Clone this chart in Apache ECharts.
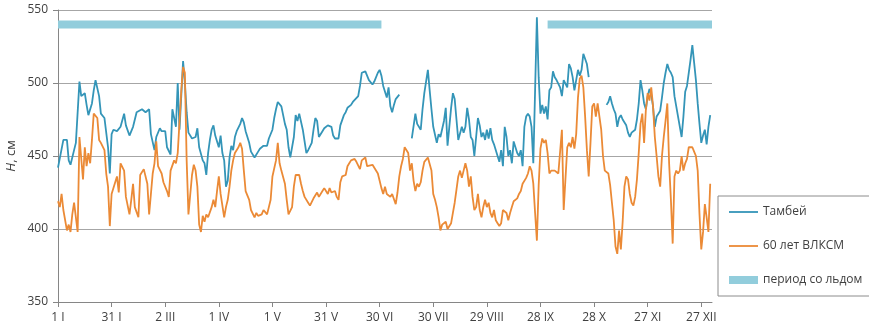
<!DOCTYPE html>
<html style="height: 100%">

<head>
	<meta charset="utf-8">
</head>

<body style="height: 100%; margin: 0; background: #fff">
	<div id="container" style="width: 869px; height: 333px;"></div>
	<script type="text/javascript" src="https://cdn.jsdelivr.net/npm/echarts@6/dist/echarts.min.js"></script>
	<script type="text/javascript">
		// day of year (0 = 1 I) and water level H, cm
		let tambeyDays = [
			0, 3, 5, 6, 7, 9, 10, 12, 13, 15, 16, 17, 19, 20, 21, 23, 24, 26, 28, 29,
			30, 31, 33, 35, 37, 38, 40, 42, 44, 45, 47, 49, 51, 52, 54, 55, 57, 58, 60, 61,
			63, 64, 66, 67, 68, 70, 71, 72, 73, 75, 77, 78, 79, 81, 82, 83, 84, 85, 86, 87,
			88, 90, 91, 92, 93, 94, 95, 96, 97, 98, 99, 100, 102, 103, 104, 105, 107, 108, 110, 112,
			113, 115, 117, 118, 120, 121, 122, 123, 125, 126, 127, 128, 129, 130, 132, 133, 134, 135, 137, 138,
			139, 140, 142, 143, 144, 145, 146, 147, 148, 149, 151, 153, 154, 155, 157, 158, 160, 161, 162, 164,
			165, 166, 168, 169, 170, 172, 173, 174, 176, 177, 179, 180, 181, 182, 184, 185, 186, 187, 188, 189,
			191, 194,
			198, 200, 201, 203, 204, 205, 207, 208, 209, 210, 212, 213, 214, 216, 217, 218, 219, 220, 221, 222,
			223, 224, 225, 226, 227, 228, 229, 230, 231, 232, 233, 234, 235, 236, 237, 238, 239, 240, 241, 242,
			243, 244, 245, 246, 247, 248, 249, 250, 251, 252, 253, 254, 255, 256, 257, 258, 259, 260, 261, 262,
			263, 264, 265, 266, 267, 268, 269, 270, 271, 272, 273, 274, 275, 276, 277, 278, 279, 280, 281, 282,
			283, 284, 285, 286, 287, 288, 289, 290, 291, 292, 293, 294, 295, 296, 297, 302,
			307, 308, 309, 310, 311, 312, 313, 314, 315, 316, 317, 318, 319, 320, 321, 323, 324, 325, 326, 327,
			328, 329, 330, 331, 332, 333, 334, 335, 336, 337, 338, 339, 340, 341, 342, 343, 344, 345, 346, 347,
			348, 349, 350, 351, 352, 353, 354, 355, 356, 357, 358, 359, 360, 361, 362, 363, 364, 365
		];
		let tambeyH = [
			442, 461, 461, 447, 444, 454, 459, 501, 491, 493, 485, 478, 486, 495, 502, 491, 479, 476, 456, 438,
			465, 468, 467, 470, 479, 471, 464, 470, 480, 479, 482, 480, 482, 465, 454, 463, 469, 467, 467, 456,
			451, 482, 470, 500, 468, 515, 500, 480, 466, 462, 463, 469, 456, 447, 445, 437, 452, 461, 468, 471,
			464, 456, 464, 452, 447, 429, 433, 449, 457, 454, 463, 467, 472, 476, 473, 467, 459, 453, 449, 453,
			455, 457, 457, 462, 468, 476, 482, 487, 484, 478, 472, 468, 456, 449, 463, 478, 474, 479, 468, 460,
			452, 454, 459, 468, 476, 474, 463, 462, 467, 469, 471, 470, 464, 462, 462, 471, 478, 480, 483, 485,
			487, 487, 491, 498, 507, 508, 509, 502, 499, 501, 507, 509, 505, 498, 490, 497, 484, 480, 485, 489,
			492, null,
			462, 479, 472, 468, 482, 493, 509, 495, 482, 470, 459, 465, 463, 474, 483, 457, 470, 483, 493, 489,
			475, 461, 460, 470, 466, 470, 483, 475, 463, 461, 450, 463, 476, 471, 463, 466, 461, 468, 462, 469,
			461, 458, 459, 450, 446, 454, 443, 470, 463, 450, 454, 445, 460, 461, 452, 450, 454, 443, 470, 477,
			479, 477, 470, 445, 495, 545, 504, 479, 485, 479, 484, 475, 495, 497, 508, 504, 502, 501, 497, 491,
			502, 503, 497, 513, 510, 504, 495, 502, 509, 505, 509, 520, 520, 513, 504, null,
			485, 487, 491, 486, 482, 479, 470, 476, 478, 475, 476, 471, 466, 463, 466, 468, 475, 486, 502, 495,
			486, 482, 491, 496, 492, 484, 470, 477, 479, 481, 490, 500, 507, 513, 509, 507, 504, 491, 484, 477,
			470, 463, 477, 494, 498, 507, 516, 526, 514, 502, 486, 472, 459, 464, 468, 458, 470, 478
		];
		let vlksmDays = [
			0, 1, 2, 3, 5, 6, 7, 8, 9, 11, 12, 13, 14, 15, 16, 17, 18, 19, 20, 22,
			23, 24, 26, 27, 28, 29, 30, 31, 33, 34, 35, 37, 38, 40, 41, 42, 43, 45, 46, 48,
			49, 50, 51, 53, 54, 55, 56, 58, 59, 61, 62, 63, 65, 66, 67, 69, 70, 71, 72, 73,
			74, 75, 76, 77, 78, 79, 80, 81, 82, 83, 84, 86, 87, 88, 89, 90, 91, 93, 94, 95,
			96, 97, 98, 99, 101, 102, 103, 104, 105, 107, 108, 110, 111, 112, 114, 115, 117, 118, 119, 120,
			121, 122, 123, 124, 125, 127, 128, 129, 131, 132, 133, 135, 136, 137, 138, 140, 141, 143, 145, 146,
			148, 149, 151, 152, 153, 155, 156, 157, 158, 159, 161, 162, 163, 164, 166, 167, 168, 169, 170, 172,
			173, 174, 176, 177, 179, 180, 181, 182, 183, 184, 185, 186, 187, 188, 189, 190, 191, 192, 193, 194,
			196, 197, 198, 199, 200, 201, 202, 203, 204, 205, 207, 208, 209, 210, 211, 212, 213, 214, 215, 216,
			217, 218, 219, 220, 221, 222, 223, 224, 225, 226, 227, 228, 229, 230, 231, 232, 233, 234, 235, 236,
			237, 238, 239, 240, 241, 242, 243, 244, 245, 246, 247, 248, 249, 250, 251, 252, 253, 254, 255, 256,
			257, 258, 259, 260, 261, 262, 263, 264, 265, 266, 267, 268, 269, 270, 271, 272, 273, 274, 275, 276,
			277, 278, 279, 280, 281, 282, 283, 284, 285, 286, 287, 288, 289, 290, 291, 292, 293, 294, 295, 296,
			297, 298, 299, 300, 301, 302, 303, 304, 305, 306, 307, 308, 309, 310, 311, 312, 313, 314, 315, 316,
			317, 318, 319, 320, 321, 322, 323, 324, 325, 326, 327, 328, 329, 330, 331, 332, 333, 334, 335, 336,
			337, 338, 339, 340, 341, 342, 343, 344, 345, 346, 347, 348, 349, 350, 351, 352, 353, 354, 355, 356,
			357, 358, 359, 360, 361, 362, 363, 364, 365
		];
		let vlksmH = [
			419, 415, 424, 413, 399, 403, 398, 410, 418, 398, 463, 464, 434, 456, 443, 452, 445, 461, 479, 476,
			461, 459, 454, 438, 429, 402, 424, 425, 436, 425, 445, 440, 422, 410, 420, 431, 415, 408, 437, 441,
			440, 431, 410, 438, 445, 460, 443, 438, 432, 426, 422, 440, 447, 445, 452, 495, 511, 507, 447, 410,
			411, 437, 444, 440, 429, 403, 398, 409, 405, 410, 408, 415, 420, 415, 426, 436, 424, 408, 415, 420,
			429, 440, 447, 452, 456, 459, 455, 440, 426, 420, 413, 408, 411, 409, 410, 413, 410, 415, 420, 436,
			437, 447, 459, 445, 440, 431, 420, 410, 415, 429, 437, 437, 431, 426, 422, 418, 416, 421, 425, 422,
			426, 428, 424, 428, 425, 426, 422, 420, 432, 436, 437, 443, 445, 447, 448, 446, 447, 441, 447, 449,
			443, 444, 444, 443, 438, 433, 428, 424, 429, 424, 425, 422, 424, 425, 417, 425, 436, 443, 448, 456,
			452, 440, 445, 433, 426, 431, 429, 432, 440, 446, 449, 450, 440, 424, 420, 415, 408, 399, 403, 404,
			405, 400, 399, 404, 411, 418, 427, 436, 440, 435, 440, 445, 440, 429, 436, 422, 413, 415, 424, 413,
			408, 415, 420, 415, 418, 411, 408, 413, 406, 404, 402, 404, 413, 414, 411, 406, 411, 415, 419, 418,
			421, 424, 426, 431, 432, 435, 438, 443, 440, 431, 411, 392, 430, 455, 462, 459, 461, 452, 438, 440,
			439, 440, 439, 438, 438, 468, 413, 413, 456, 459, 456, 463, 455, 465, 490, 503, 505, 497, 477, 454,
			436, 459, 484, 486, 477, 486, 477, 468, 450, 440, 439, 438, 430, 418, 406, 388, 383, 399, 386, 405,
			429, 436, 434, 424, 418, 416, 422, 434, 452, 472, 479, 459, 482, 493, 488, 497, 484, 463, 450, 436,
			429, 450, 463, 474, 486, 445, 420, 390, 436, 440, 438, 440, 450, 440, 445, 448, 456, 455, 456, 453,
			450, 440, 410, 386, 398, 417, 408, 398, 431
		];
		let iceFrom = [0, 274];
		let iceTo = [181, 366];
		let iceLevel = 540;
		let tickDays = [0, 30, 60, 90, 120, 150, 180, 210, 240, 270, 300, 330, 360];
		let tickLabels = ['1 I', '31 I', '2 III', '1 IV', '1 V', '31 V', '30 VI', '30 VII', '29 VIII', '28 IX', '28 X', '27 XI', '27 XII'];

		function pairs(days, values) {
			let out = [];
			for (let i = 0; i < days.length; i++) {
				out.push([days[i], values[i]]);
			}
			return out;
		}

		let iceData = [];
		for (let k = 0; k < iceFrom.length; k++) {
			if (k > 0) iceData.push([(iceTo[k - 1] + iceFrom[k]) / 2, null]);
			iceData.push([iceFrom[k], iceLevel]);
			iceData.push([iceTo[k], iceLevel]);
		}

		let dom = document.getElementById("container");
		let myChart = echarts.init(dom, null, { renderer: 'canvas' });
		let font = '"Open Sans", sans-serif';
		let labelColor = '#404040';
		let axisColor = '#868686';

		let option = {
			animation: false,
			backgroundColor: '#ffffff',
			grid: {
				left: 58,
				right: 157,
				top: 10,
				bottom: 31,
				outerBoundsMode: 'none'
			},
			legend: {
				orient: 'vertical',
				left: 718,
				top: 196,
				padding: [10, 8, 10, 7],
				itemGap: 22,
				itemWidth: 29,
				itemHeight: 14,
				borderColor: '#8c8c8c',
				borderWidth: 1,
				itemStyle: { opacity: 0 }, // hide the circle, keep only the line
				lineStyle: { width: 'inherit' },
				textStyle: { fontFamily: font, fontSize: 12, color: labelColor },
				data: ['Тамбей', '60 лет ВЛКСМ', 'период со льдом']
			},
			xAxis: {
				type: 'value',
				min: 0,
				max: 366,
				axisLine: { show: true, lineStyle: { color: axisColor, width: 1 } },
				axisTick: { show: true, length: 5, customValues: tickDays, lineStyle: { color: axisColor } },
				splitLine: { show: false },
				axisLabel: {
					customValues: tickDays,
					margin: 10,
					fontFamily: font,
					fontSize: 12,
					color: labelColor,
					formatter: function (v) {
						let i = tickDays.indexOf(v);
						return i >= 0 ? tickLabels[i] : '';
					}
				}
			},
			yAxis: {
				type: 'value',
				min: 350,
				max: 550,
				interval: 50,
				name: '{i|H}, см',
				nameLocation: 'middle',
				nameGap: 40,
				nameMoveOverlap: false,
				nameTextStyle: {
					fontFamily: font,
					fontSize: 13,
					color: labelColor,
					rich: { i: { fontStyle: 'italic', fontFamily: font, fontSize: 13, color: labelColor } }
				},
				axisLine: { show: true, lineStyle: { color: axisColor, width: 1 } },
				axisTick: { show: true, length: 5, lineStyle: { color: axisColor } },
				splitLine: { show: true, lineStyle: { color: '#a6a6a6', width: 1 } },
				axisLabel: { margin: 10, fontFamily: font, fontSize: 12, color: labelColor }
			},
			series: [
				{
					name: 'Тамбей',
					type: 'line',
					symbol: 'none',
					connectNulls: false,
					color: '#3495b8',
					lineStyle: { width: 1.8, color: '#3495b8' },
					data: pairs(tambeyDays, tambeyH)
				},
				{
					name: '60 лет ВЛКСМ',
					type: 'line',
					symbol: 'none',
					color: '#eb8a36',
					lineStyle: { width: 1.8, color: '#eb8a36' },
					data: pairs(vlksmDays, vlksmH)
				},
				{
					name: 'период со льдом',
					type: 'line',
					symbol: 'none',
					connectNulls: false,
					color: '#92cddc',
					lineStyle: { width: 8, color: '#92cddc', cap: 'butt' },
					data: iceData
				}
			]
		};

		myChart.setOption(option, true);
	</script>
</body>
</html>
